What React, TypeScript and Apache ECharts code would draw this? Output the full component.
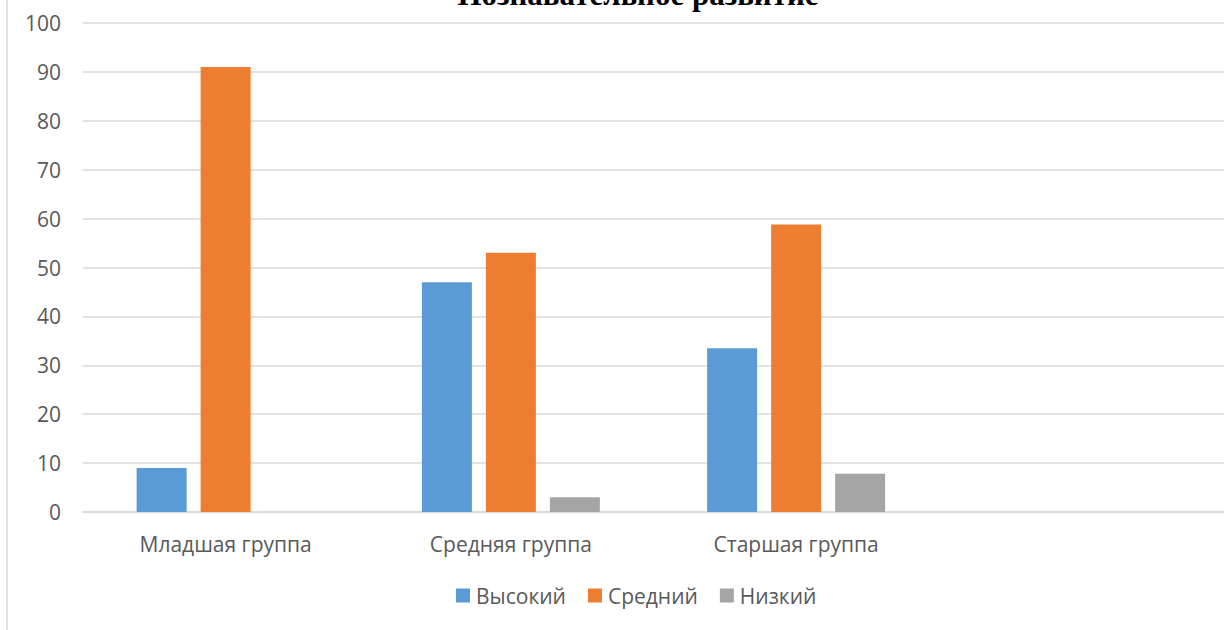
import React, { useEffect, useRef } from "react";
import * as echarts from "echarts";

const categories = ["Младшая группа", "Средняя группа", "Старшая группа", ""];
const seriesNames = ["Высокий", "Средний", "Низкий"];
const high = [9, 47, 33.5, null];
const mid = [91, 53, 58.8, null];
const low = [0, 3, 7.8, null];
const colors = ["#5B9BD5", "#ED7D31", "#A5A5A5"];
const title = "Познавательное развитие";

export default function App() {
  const ref = useRef<HTMLDivElement>(null);
  useEffect(() => {
    const chart = echarts.init(ref.current!, null, { renderer: "svg" });
    const font = "'Open Sans', 'Noto Sans', sans-serif";
    chart.setOption({
      animation: false,
      graphic: [
        {
          type: "text",
          x: 638,
          y: -21,
          style: {
            text: title,
            textAlign: "center",
            textVerticalAlign: "top",
            font: "bold 31px 'Liberation Serif', 'Times New Roman', serif",
            fill: "#000",
          },
        },
        {
          type: "line",
          shape: { x1: 7, y1: 0, x2: 7, y2: 630 },
          style: { stroke: "#d9d9d9", lineWidth: 1.5 },
        },
      ],
      legend: {
        top: 580,
        left: 451,
        itemWidth: 14,
        itemHeight: 14,
        itemGap: 22,
        icon: "rect",
        textStyle: { fontSize: 21, color: "#595959", fontFamily: font, padding: [0, 0, 0, 1] },
        data: seriesNames,
      },
      grid: { left: 83, top: 23, width: 1144, height: 489, containLabel: false },
      xAxis: {
        type: "category",
        data: categories,
        axisLine: { lineStyle: { color: "#d9d9d9", width: 1.5 } },
        axisTick: { show: false },
        axisLabel: { fontSize: 21, color: "#595959", fontFamily: font, margin: 21 },
      },
      yAxis: {
        type: "value",
        min: 0,
        max: 100,
        interval: 10,
        axisLine: { show: false },
        axisTick: { show: false },
        axisLabel: { fontSize: 21, color: "#595959", fontFamily: font, margin: 22 },
        splitLine: { lineStyle: { color: "#d9d9d9", width: 1.5 } },
      },
      series: [high, mid, low].map((d, i) => ({
        name: seriesNames[i],
        type: "bar",
        data: d,
        barWidth: 50,
        barGap: "28%",
        itemStyle: { color: colors[i] },
      })),
    });
    return () => chart.dispose();
  }, []);
  return (
    <div
      ref={ref}
      style={{ position: "fixed", left: 0, top: 0, width: 1224, height: 630, background: "#fff" }}
    />
  );
}
